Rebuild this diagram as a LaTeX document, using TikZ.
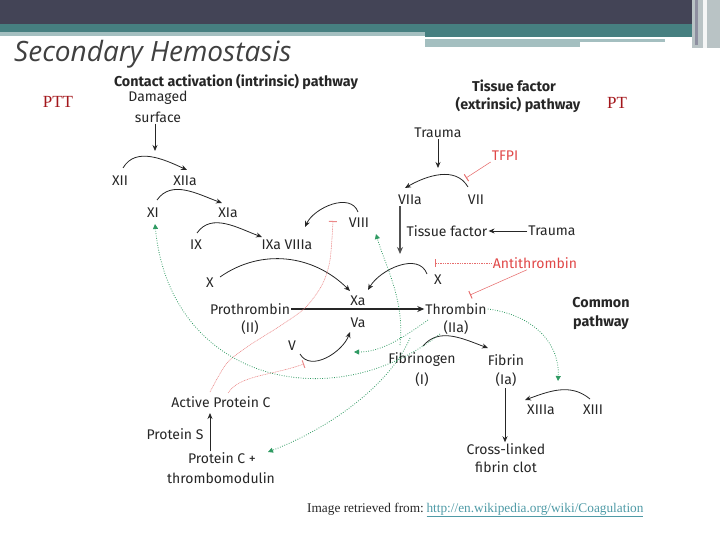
\documentclass[tikz,border=0pt]{standalone}
\usepackage{fontspec}
\setmainfont{Liberation Serif}
\newfontfamily\diagfont{Fira Sans}
\newfontfamily\titlefont{Open Sans}
\usetikzlibrary{arrows.meta}
\definecolor{hdrdark}{HTML}{434456}
\definecolor{hdrteal}{HTML}{467F80}
\definecolor{hdrlight}{HTML}{A4BFC0}
\definecolor{edgegrey}{HTML}{B9C3C5}
\definecolor{edgedark}{HTML}{8E8FA0}
\definecolor{titlec}{HTML}{404040}
\definecolor{txt}{HTML}{262626}
\definecolor{inhib}{HTML}{E04848}
\definecolor{gdot}{HTML}{2F9A62}
\definecolor{ptred}{HTML}{A3161B}
\definecolor{linkc}{HTML}{4E9AA6}
\tikzset{
  lbl/.style={font=\diagfont\fontsize{14}{16}\selectfont, text=txt, inner sep=1pt},
  hd/.style={font=\diagfont\bfseries\fontsize{14.3}{16}\selectfont, text=txt, inner sep=1pt},
  redlbl/.style={font=\diagfont\fontsize{14}{16}\selectfont, text=inhib, inner sep=1pt},
  ptlbl/.style={font=\fontsize{17}{19}\selectfont, text=ptred, inner sep=0pt},
  react/.style={draw=txt, line width=0.8pt, -{Stealth[length=6pt,width=5pt]}},
  heavy/.style={draw=txt, line width=1.3pt, -{Stealth[length=7pt,width=6pt]}},
  inh/.style={draw=inhib!80, line width=0.55pt, -{Bar[width=8pt,line width=1pt]}},
  inhdot/.style={inh, dash pattern=on 1pt off 0.7pt},
  gfeed/.style={draw=gdot, line width=0.8pt, dash pattern=on 0.8pt off 1.6pt, -{Triangle[length=5pt,width=5pt,fill=gdot]}}
}
\begin{document}
\begin{tikzpicture}[x=1pt,y=-1pt]
\useasboundingbox (0,0) rectangle (720,540);
% header bars
\fill[hdrdark] (0,0) rectangle (720,24);
\fill[hdrteal] (0,24) rectangle (425,32);
\fill[hdrlight] (0,32) rectangle (425,36);
\fill[hdrteal] (425,24) rectangle (700,37);
\fill[hdrlight] (425,39) rectangle (665,42);
\fill[hdrlight] (425,42) rectangle (580,47);
\fill[edgegrey] (692,0) rectangle (720,48);
\fill[edgedark] (695,0) rectangle (698,45);
\fill[white!85!edgegrey] (703,0) rectangle (707,48);
% title
\node[anchor=base west, font=\titlefont\itshape\fontsize{28}{31}\selectfont, text=titlec, inner sep=0pt] (title) at (14,62) {Secondary Hemostasis};
\node[ptlbl] (ptt) at (58,102) {PTT};
\node[ptlbl] (pt) at (617,103) {PT};
% intrinsic pathway
\node[hd] (cap) at (236,82) {Contact activation (intrinsic) pathway};
\node[lbl] (dam) at (158,98) {Damaged};
\node[lbl] (surf) at (158,117) {surface};
\node[lbl] (xii) at (120,181) {XII};
\node[lbl] (xiia) at (185,181) {XIIa};
\node[lbl] (xi) at (153,213) {XI};
\node[lbl] (xia) at (228,213) {XIa};
\node[lbl] (ix) at (196,245) {IX};
\node[lbl] (ixa) at (287,245) {IXa VIIIa};
\node[lbl] (viii) at (359,223) {VIII};
\node[lbl] (x1) at (210,283) {X};
\node[lbl] (xa) at (358,301) {Xa};
\node[lbl] (va) at (358,323) {Va};
\node[lbl] (proth) at (250,309) {Prothrombin};
\node[lbl] (ii) at (250,328) {(II)};
\node[lbl] (v) at (292,346) {V};
% extrinsic pathway
\node[hd] (tfh1) at (514,86) {Tissue factor};
\node[hd] (tfh2) at (518,105) {(extrinsic) pathway};
\node[lbl] (trauma1) at (438,133) {Trauma};
\node[redlbl] (tfpi) at (505,156) {TFPI};
\node[lbl] (viia) at (410,200) {VIIa};
\node[lbl] (vii) at (476,200) {VII};
\node[lbl] (tf) at (447,231) {Tissue factor};
\node[lbl] (trauma2) at (552,231) {Trauma};
\node[redlbl] (anti) at (535,263) {Antithrombin};
\node[lbl] (x2) at (438,280) {X};
% common pathway
\node[lbl] (thr) at (456,309) {Thrombin};
\node[lbl] (iia) at (456,328) {(IIa)};
\node[hd] (common) at (601,303) {Common};
\node[hd] (pathway) at (601,323) {pathway};
\node[lbl] (fibg) at (422,360) {Fibrinogen};
\node[lbl] (i1) at (422,380) {(I)};
\node[lbl] (fib) at (506,360) {Fibrin};
\node[lbl] (ia) at (506,380) {(Ia)};
\node[lbl] (xiiia) at (541,410) {XIIIa};
\node[lbl] (xiii) at (593,410) {XIII};
\node[lbl] (cross) at (506,449) {Cross-linked};
\node[lbl] (clot) at (506,467) {fibrin clot};
% protein C
\node[lbl] (apc) at (221,402) {Active Protein C};
\node[lbl] (ps) at (175,434) {Protein S};
\node[lbl] (pc) at (222,458) {Protein C +};
\node[lbl] (tm) at (221,478) {thrombomodulin};
% footer
\node[anchor=base west, font=\fontsize{13.3}{15}\selectfont, text=black!85, inner sep=0pt] (src) at (307,512) {Image retrieved from:};
\node[anchor=base west, font=\fontsize{13.3}{15}\selectfont, text=linkc, inner sep=0pt] (link) at (src.base east) {\,\underline{http://en.wikipedia.org/wiki/Coagulation}};

% coordinates for arrow ends
\coordinate (s1) at (155,151);
\coordinate (s2) at (438,168);
\coordinate (s3) at (400,254);
\coordinate (s4) at (210,413);

% reaction arcs
\draw[react] (123,168) to[out=60,in=155] (187,170);
\draw[react] (157,200) to[out=55,in=160] (222,203);
\draw[react] (197,233) to[out=55,in=160] (262,237);
\draw[react] (220,277) to[out=35,in=135] (350,291);
\draw[react] (358,212) to[out=110,in=65] (305,227);
\draw[react] (468,187) to[out=120,in=30] (405,188);
\draw[react] (427,274) to[out=110,in=60] (368,290);
\draw[react] (300,354) to[out=-60,in=-110] (350,332);
\draw[react] (423,346) to[out=50,in=160] (488,348);
\draw[react] (590,399) to[out=140,in=20] (525,400);

% straight arrows
\draw[react] (surf.south -| s1) -- (s1);
\draw[react] (trauma1.south) -- (s2);
\draw[heavy, draw=txt!80, line width=1.1pt] (viia.south -| s3) -- (s3);
\draw[react] (trauma2.west) -- (tf.east);
\draw[heavy] (proth.east) -- (thr.west);
\draw[react] (ia.south -| 505,0) -- (cross.north -| 505,0);
\draw[react] (pc.north -| s4) -- (s4);

% inhibitions
\draw[inh] (tfpi.south west) -- (466,178);
\draw[inhdot] (anti.west) -- (435,263);
\draw[inh] ([xshift=-8pt]anti.south) -- (470,295);
\draw[inhdot, draw=inhib!65] plot[smooth] coordinates {(210,392) (227,363) (250,345) (280,326) (305,308) (322,285) (330,260) (333,221)};
\draw[inhdot, draw=inhib!65] (228,393) .. controls (240,375) and (270,376) .. (304,364);

% thrombin feedback
\draw[gfeed] (440,334) .. controls (330,420) and (170,380) .. (155,224);
\draw[gfeed] (428,320) .. controls (400,340) and (380,352) .. (354,352);
\draw[gfeed] (400,345) .. controls (405,300) and (385,265) .. (376,234);
\draw[gfeed] (410,338) .. controls (390,385) and (330,428) .. (268,452);
\draw[gfeed] (thr.east) .. controls (535,315) and (560,345) .. (558,381);
\end{tikzpicture}
\end{document}
